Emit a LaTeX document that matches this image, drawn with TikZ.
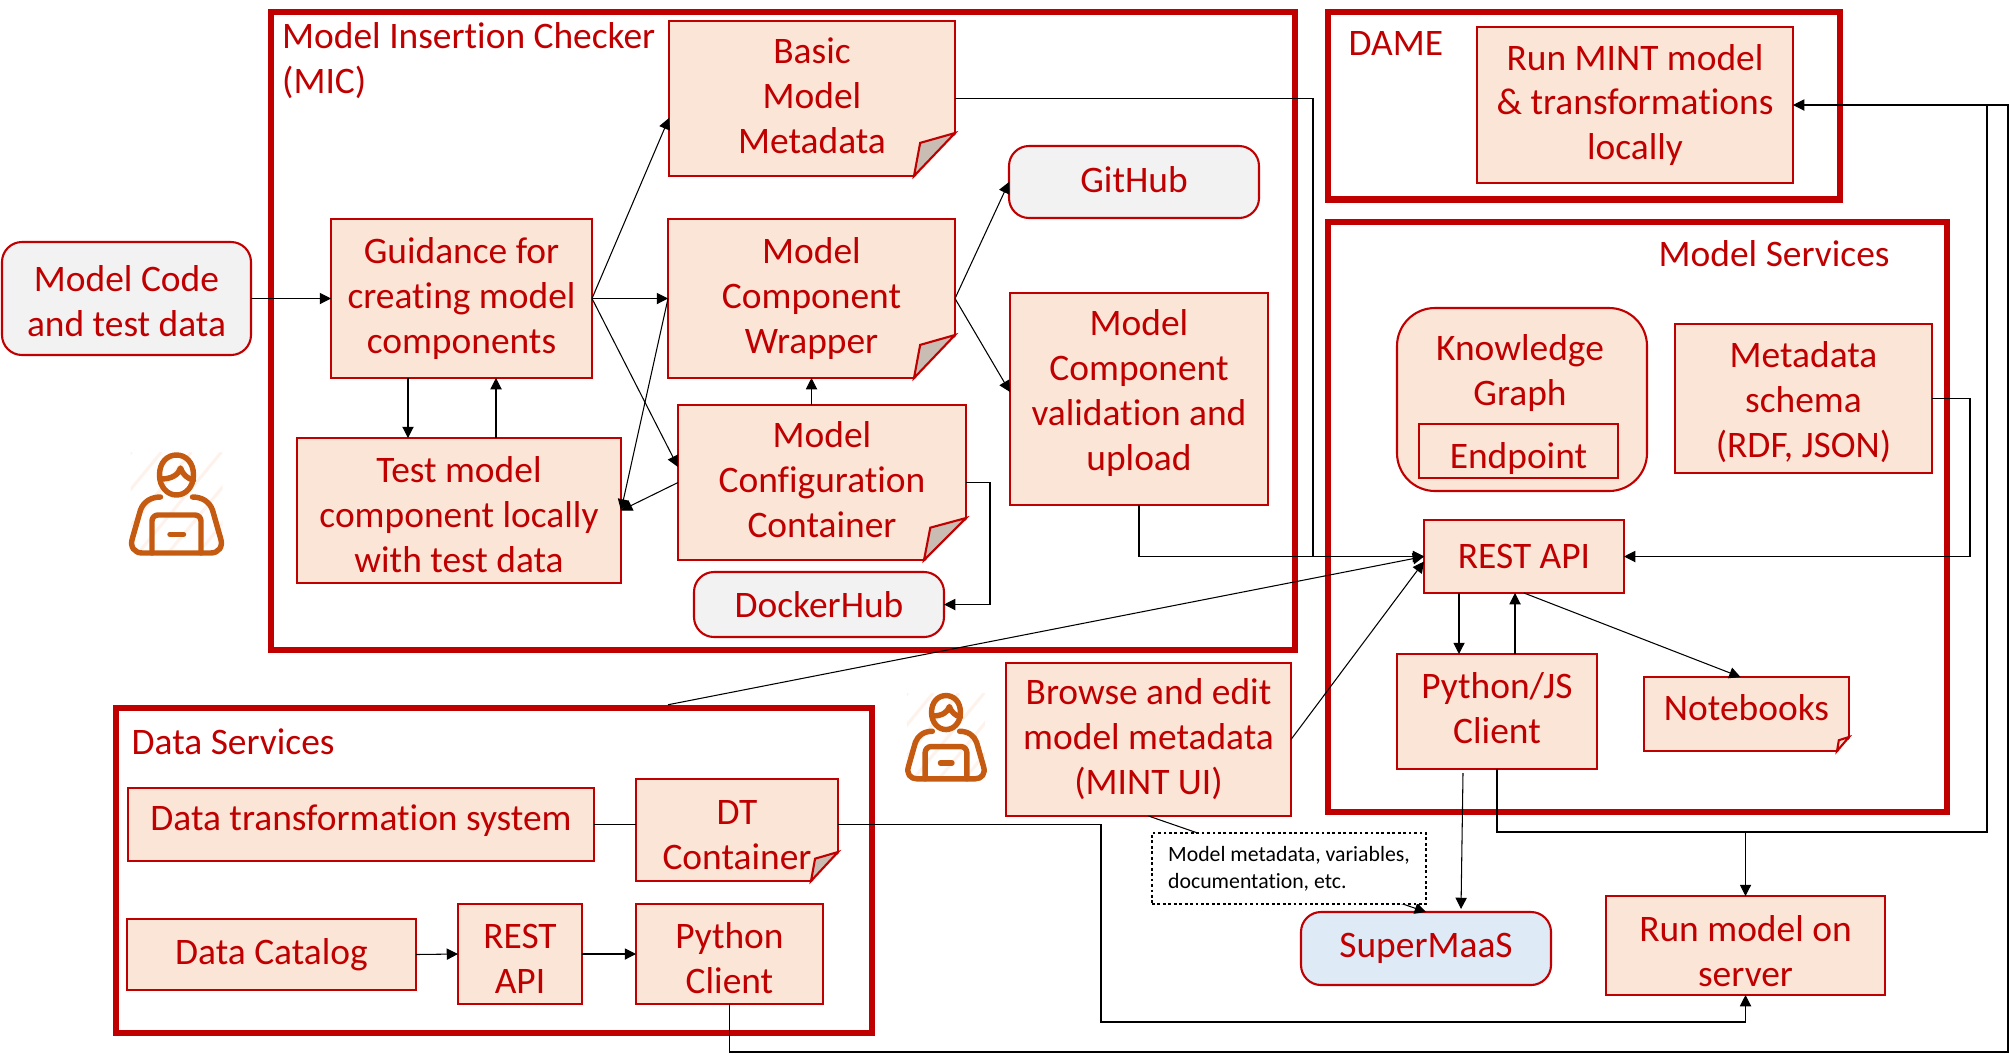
\documentclass[tikz,border=0pt]{standalone}
\usepackage{fontspec}
\setmainfont[Ligatures=NoCommon]{Carlito}
\usetikzlibrary{arrows.meta}

\definecolor{mintred}{HTML}{C00000}
\definecolor{boxfill}{HTML}{FBE5D6}
\definecolor{greyfill}{HTML}{F2F2F2}
\definecolor{bluefill}{HTML}{DEEBF7}
\definecolor{foldfill}{HTML}{C9BDB3}
\definecolor{personcol}{HTML}{C55A11}
\definecolor{hatchcol}{HTML}{FDF3EC}

\tikzset{
    bigframe/.style={draw=mintred, line width=1.85pt},
    plain/.style={draw=mintred, line width=.6pt, outer sep=0pt, inner sep=0pt, align=center, text=mintred,
        font=\fontsize{10.65}{12.8}\selectfont},
    redbox/.style={plain, fill=boxfill},
    greybox/.style={plain, fill=greyfill, rounded corners=.2cm},
    bluebox/.style={plain, fill=bluefill, rounded corners=.2cm},
    kgbox/.style={plain, fill=boxfill, rounded corners=.38cm},
    textup/.style={execute at end node={\rule[-#1]{0pt}{0pt}}},
    title/.style={text=mintred, inner sep=0pt, align=left, anchor=west,
        font=\fontsize{10.65}{12.8}\selectfont},
    notebox/.style={draw=black, fill=white, dash pattern=on .8pt off .75pt, line width=.8pt, outer sep=0pt,
        inner sep=0pt, align=left, font=\fontsize{6.2}{7.7}\selectfont},
    link/.style={-{Triangle[length=3.2pt,width=3.2pt]}, line width=.3pt, black},
    wire/.style={line width=.3pt, black},
    person/.pic={
        \begin{scope}
            \clip (-.46,0) rectangle (.46,1.03);
            \foreach \s in {-1.3,-1,...,.5}
                \draw[hatchcol, line width=.9pt] (\s,1.03) -- (\s+.85,0);
        \end{scope}
        \begin{scope}[draw=personcol, line width=1.55pt, line join=round, line cap=round]
            \draw (-.17,.23) .. controls (-.17,.1) and (-.09,.03) .. (0,.03) .. controls (.09,.03) and (.17,.1) .. (.17,.23)
                .. controls (.17,.35) and (.09,.43) .. (0,.43) .. controls (-.09,.43) and (-.17,.35) .. (-.17,.23) -- cycle;
            \draw (-.16,.27) .. controls (-.05,.27) and (.02,.23) .. (.04,.16) .. controls (.06,.22) and (.11,.27) .. (.17,.28);
            \draw (-.16,.45) .. controls (-.26,.45) and (-.33,.5) .. (-.36,.58) -- (-.44,.86)
                .. controls (-.47,.95) and (-.42,1.01) .. (-.34,1.01) -- (.34,1.01)
                .. controls (.42,1.01) and (.47,.95) .. (.44,.86) -- (.36,.58)
                .. controls (.33,.5) and (.26,.45) .. (.16,.45);
            \draw[rounded corners=.06cm] (-.245,1.01) -- (-.245,.63) -- (.245,.63) -- (.245,1.01);
            \draw (-.065,.823) -- (.07,.823);
        \end{scope}
    }
}

\newcommand{\foldcorner}[4][foldfill]{
    \fill[white] ([xshift=-#3cm,yshift=-.02cm]#2.south east) -- ([xshift=.02cm,yshift=-.02cm]#2.south east)
        -- ([xshift=.02cm,yshift=#4cm]#2.south east) -- cycle;
    \draw[draw=mintred, line width=.6pt, fill=#1] ([xshift=-#3cm]#2.south east)
        -- ([xshift=-.85*#3cm,yshift=.77*#4cm]#2.south east)
        -- ([yshift=#4cm]#2.south east) -- cycle;
}

\begin{document}
\begin{tikzpicture}[y=-1cm]
    \useasboundingbox (0,0) rectangle (20.09,10.53);

    % frames
    \node[bigframe, minimum width=10.24cm, minimum height=6.38cm] (micframe) at (7.83,3.31) {};
    \node[bigframe, minimum width=5.12cm, minimum height=1.875cm] (dameframe) at (15.84,1.0575) {};
    \node[bigframe, minimum width=6.19cm, minimum height=5.9cm] (servicesframe) at (16.375,5.17) {};
    \node[bigframe, minimum width=7.56cm, minimum height=3.25cm] (dataframe) at (4.94,8.705) {};

    \node[title] (miclabel) at (2.815,.605) {Model Insertion Checker\\(MIC)};
    \node[title] (damelabel) at (13.48,.43) {DAME};
    \node[title] (serviceslabel) at (16.58,2.54) {Model Services};
    \node[title] (datalabel) at (1.31,7.42) {Data Services};

    % model insertion checker
    \node[greybox, minimum width=2.49cm, minimum height=1.13cm] (code) at (1.265,2.985) {\rule{0pt}{8.9pt}Model Code\\and test data};
    \node[redbox, minimum width=2.61cm, minimum height=1.59cm] (guidance) at (4.615,2.985) {Guidance for\\creating model\\components};
    \node[redbox, minimum width=3.24cm, minimum height=1.45cm] (test) at (4.59,5.105) {\rule{0pt}{9.6pt}Test model\\component locally\\with test data};
    \node[redbox, textup=1.5pt, minimum width=2.86cm, minimum height=1.55cm] (basic) at (8.12,.985) {Basic\\Model\\Metadata};
    \node[redbox, minimum width=2.87cm, minimum height=1.59cm] (wrapper) at (8.115,2.985) {Model\\Component\\Wrapper};
    \node[redbox, textup=1.5pt, minimum width=2.88cm, minimum height=1.55cm] (config) at (8.22,4.825) {Model\\Configuration\\Container};
    \node[greybox, minimum width=2.5cm, minimum height=.65cm] (dockerhub) at (8.19,6.045) {DockerHub};
    \node[greybox, textup=1.5pt, minimum width=2.5cm, minimum height=.72cm] (github) at (11.34,1.82) {GitHub};
    \node[redbox, textup=5pt, minimum width=2.58cm, minimum height=2.12cm] (validation) at (11.39,3.99) {Model\\Component\\validation and\\upload};

    % dame and model services
    \node[redbox, minimum width=3.16cm, minimum height=1.56cm] (runmint) at (16.35,1.05) {Run MINT model\\\& transformations\\locally};
    \node[kgbox, minimum width=2.5cm, minimum height=1.83cm] (kg) at (15.22,3.995) {};
    \node[title, align=center, anchor=center] (kglabel) at (15.2,3.735) {Knowledge\\Graph};
    \node[plain, minimum width=1.99cm, minimum height=.54cm] (endpoint) at (15.185,4.51) {\rule{0pt}{11.8pt}Endpoint};
    \node[redbox, minimum width=2.57cm, minimum height=1.49cm] (schema) at (18.035,3.985) {\rule{0pt}{9.6pt}Metadata\\schema\\(RDF, JSON)};
    \node[redbox, minimum width=2cm, minimum height=.73cm] (rest) at (15.24,5.565) {REST API};
    \node[redbox, textup=2.2pt, minimum width=2cm, minimum height=1.15cm] (pyjs) at (14.97,7.115) {Python/JS\\Client};
    \node[redbox, textup=3.6pt, minimum width=2.05cm, minimum height=.74cm] (notebooks) at (17.465,7.14) {Notebooks};

    % outside the frames
    \node[redbox, minimum width=2.85cm, minimum height=1.53cm] (browse) at (11.485,7.395) {Browse and edit\\model metadata\\(MINT UI)};
    \node[bluebox, minimum width=2.5cm, minimum height=.73cm] (supermaas) at (14.26,9.485) {SuperMaaS};
    \node[redbox, minimum width=2.79cm, minimum height=.99cm] (runserver) at (17.455,9.455) {\rule{0pt}{10.4pt}Run model on\\server};

    % data services
    \node[redbox, textup=4.2pt, minimum width=4.66cm, minimum height=.73cm] (transform) at (3.61,8.245) {Data transformation system};
    \node[redbox, minimum width=2.02cm, minimum height=1.02cm] (dtc) at (7.37,8.3) {\rule{0pt}{9.7pt}DT\\Container};
    \node[redbox, minimum width=2.89cm, minimum height=.71cm] (catalog) at (2.715,9.545) {Data Catalog};
    \node[redbox, minimum width=1.24cm, minimum height=1cm] (restdata) at (5.2,9.54) {\rule{0pt}{9.7pt}REST\\API};
    \node[redbox, minimum width=1.87cm, minimum height=1cm] (pyclient) at (7.295,9.54) {\rule{0pt}{10pt}Python\\Client};

    % free ends of the long wires
    \coordinate (basicbus) at (13.13,.985);
    \coordinate (junction) at (14.97,8.32);
    \coordinate (rightbus) at (19.87,1.05);
    \coordinate (corner) at (20.08,10.52);
    \coordinate (dtbus) at (11.01,10.22);

    % links
    \draw[link] (code.east) -- (guidance.west);
    \draw[link] (guidance.east) -- ([yshift=-.195cm]basic.west);
    \draw[link] (guidance.east) -- (wrapper.west);
    \draw[link] (guidance.east) -- ([yshift=.155cm]config.west);
    \draw[link] (wrapper.west) -- (test.east);
    \draw[link] (config.west) -- (test.east);
    \draw[link] (config.north -| wrapper.south) -- (wrapper.south);
    \draw[link] ([xshift=-.535cm]guidance.south) -- ([xshift=-.535cm]guidance.south |- test.north);
    \draw[link] ([xshift=.345cm]guidance.south |- test.north) -- ([xshift=.345cm]guidance.south);
    \draw[link] (config.east) -- ++(.24,0) |- (dockerhub.east);
    \draw[link] (wrapper.east) -- (github.west);
    \draw[link] (wrapper.east) -- ([yshift=.07cm]validation.west);

    \draw[link] (basic.east) -- (basicbus) |- (rest.west);
    \draw[link] (validation.south) |- (rest.west);
    \draw[link] (schema.east) -- ++(.38,0) |- (rest.east);
    \draw[link] ([xshift=1.74cm]dataframe.north) -- (rest.west);
    \draw[link] (browse.east) -- ([yshift=-.05cm]rest.west);
    \draw[link] ([xshift=-.65cm]rest.south) -- ([xshift=-.65cm]rest.south |- pyjs.north);
    \draw[link] ([xshift=.18cm]pyjs.north) -- ([xshift=.18cm]pyjs.north |- rest.south);
    \draw[link] (rest.south) -- ([xshift=-.06cm]notebooks.north);
    \draw[link] ([xshift=-.34cm,yshift=-.04cm]pyjs.south) -- ([xshift=.35cm,yshift=.03cm]supermaas.north);
    \draw[link] (pyjs.south) -- (junction) -| (runserver.north);
    \draw[wire] (junction) -| (rightbus);
    \draw[link] (pyclient.south) |- (corner) |- (runmint.east);

    \draw[wire] (transform.east) -- (transform.east -| dtc.west);
    \draw[link] (transform.east -| dtc.east) -| (dtbus) -| (runserver.south);
    \draw[link] (catalog.east) -- (restdata.west);
    \draw[link] (restdata.east) -- (pyclient.west);

    \draw[link] (browse.south) -- (supermaas.north);
    \node[notebox, minimum width=2.74cm, minimum height=.71cm] (metadatanote) at (12.89,8.685) {Model metadata, variables,\\documentation, etc.};

    % folded corners
    \foldcorner{basic}{.41}{.43}
    \foldcorner{wrapper}{.41}{.43}
    \foldcorner{config}{.42}{.42}
    \foldcorner{dtc}{.27}{.29}
    \foldcorner[boxfill]{notebooks}{.12}{.14}

    % the two users
    \pic at (1.765,4.52) {person};
    \pic[scale=.85] at (9.46,6.93) {person};
\end{tikzpicture}
\end{document}
